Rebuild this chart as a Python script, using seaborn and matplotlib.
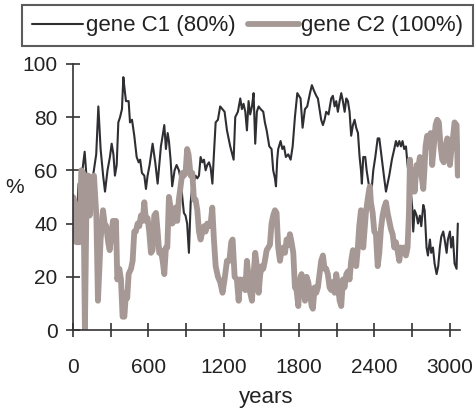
import numpy as np
import pandas as pd
import matplotlib
matplotlib.use("Agg")
import matplotlib.pyplot as plt
from matplotlib.ticker import MultipleLocator
import seaborn as sns

# gene C1 (thin black line)
c1_years = [0, 15, 30, 45, 60, 75, 93, 110, 125, 140, 160, 185, 202, 220, 240, 255, 275, 294, 308,
            322, 334, 348, 361, 375, 390, 401, 412, 422, 443, 454, 470, 488, 507, 523, 535, 549, 568,
            581, 594, 610, 622, 634, 655, 674, 687, 700, 714, 727, 740, 754, 764, 777, 790, 809, 825,
            843, 860, 870, 883, 896, 909, 923, 937, 950, 963, 976, 990, 1003, 1016, 1030, 1043, 1056,
            1069, 1083, 1096, 1110, 1122, 1136, 1154, 1172, 1190, 1207, 1226, 1252, 1279, 1292, 1313,
            1332, 1345, 1358, 1372, 1385, 1398, 1411, 1425, 1438, 1451, 1464, 1478, 1494, 1515, 1528,
            1542, 1563, 1581, 1594, 1608, 1616, 1626, 1634, 1653, 1667, 1680, 1695, 1714, 1733, 1749,
            1767, 1786, 1799, 1812, 1828, 1847, 1865, 1887, 1902, 1918, 1937, 1950, 1963, 1976, 1990,
            2003, 2016, 2035, 2056, 2069, 2083, 2096, 2109, 2123, 2136, 2149, 2163, 2176, 2189, 2202,
            2215, 2229, 2242, 2255, 2269, 2282, 2293, 2300, 2311, 2327, 2338, 2354, 2367, 2380, 2391,
            2407, 2426, 2439, 2452, 2465, 2478, 2492, 2505, 2518, 2539, 2558, 2571, 2584, 2598, 2611,
            2624, 2637, 2651, 2664, 2675, 2688, 2701, 2709, 2720, 2736, 2747, 2762, 2773, 2789, 2800,
            2815, 2826, 2842, 2852, 2866, 2879, 2895, 2908, 2921, 2932, 2948, 2959, 2975, 2985, 3001,
            3011, 3025, 3038, 3054, 3064]
c1_values = [47, 50, 42, 55, 48, 60, 67, 56, 44, 52, 58, 66, 84, 68, 58, 52, 60, 65, 70,
             66, 58, 62, 78, 80, 83, 95, 90, 86, 86, 78, 79, 73, 65, 63, 64, 59, 58,
             53, 58, 62, 66, 70, 63, 55, 62, 69, 73, 77, 68, 74, 71, 64, 54, 60, 62,
             60, 56, 50, 44, 43, 40, 29, 48, 54, 56, 58, 57, 58, 65, 63, 64, 60,
             62, 63, 61, 55, 66, 78, 79, 84, 83, 82, 75, 69, 64, 80, 82,
             87, 83, 85, 82, 75, 86, 81, 84, 89, 70, 82, 84, 83, 82, 78,
             75, 69, 68, 60, 57, 54, 64, 68, 71, 68, 69, 65, 66, 64, 69,
             80, 89, 88, 87, 76, 83, 84, 89, 92, 90, 88, 87, 83, 79, 77,
             79, 82, 81, 87, 88, 84, 86, 82, 86, 89, 86, 82, 87, 86, 82,
             73, 77, 79, 76, 74, 65, 60, 55, 65, 65, 60, 55, 53, 54, 60,
             65, 72, 72, 67, 62, 57, 52, 55, 58, 64, 68, 71, 69, 71, 69,
             71, 68, 69, 62, 58, 53, 46, 37, 45, 43, 40, 43, 39, 47, 45,
             31, 28, 34, 29, 31, 25, 21, 24, 31, 35, 37, 34, 29, 34, 37,
             31, 35, 25, 23, 40]

# gene C2 (thick grey line)
c2_years = [0, 13, 27, 40, 53, 66, 82, 95, 110, 122, 133, 146, 167, 186, 199, 220, 239, 252, 265,
            280, 292, 305, 318, 332, 342, 353, 369, 382, 395, 409, 422, 432, 443, 462, 475, 488, 500,
            515, 528, 541, 555, 568, 581, 594, 607, 621, 634, 647, 661, 674, 687, 700, 714, 727, 740,
            751, 764, 777, 790, 803, 817, 830, 843, 857, 870, 883, 896, 909, 920, 937, 950, 963, 976,
            990, 1003, 1016, 1030, 1043, 1056, 1069, 1083, 1096, 1109, 1122, 1136, 1154, 1172, 1191,
            1207, 1226, 1245, 1260, 1271, 1287, 1305, 1319, 1332, 1345, 1359, 1372, 1385, 1398, 1411,
            1425, 1438, 1451, 1464, 1478, 1491, 1504, 1515, 1528, 1542, 1555, 1568, 1581, 1594, 1608,
            1621, 1634, 1648, 1661, 1674, 1688, 1701, 1714, 1727, 1740, 1754, 1767, 1780, 1794, 1807,
            1820, 1833, 1847, 1860, 1873, 1887, 1900, 1910, 1924, 1937, 1950, 1963, 1976, 1990, 2003,
            2016, 2029, 2043, 2056, 2069, 2083, 2096, 2109, 2123, 2136, 2149, 2162, 2176, 2189, 2202,
            2215, 2229, 2242, 2255, 2268, 2279, 2293, 2302, 2311, 2321, 2332, 2346, 2359, 2364, 2372,
            2386, 2399, 2412, 2426, 2439, 2452, 2465, 2478, 2492, 2505, 2518, 2531, 2545, 2558, 2571,
            2584, 2598, 2611, 2624, 2637, 2651, 2664, 2675, 2683, 2693, 2701, 2709, 2720, 2736, 2749,
            2762, 2773, 2789, 2798, 2807, 2820, 2834, 2848, 2860, 2874, 2887, 2900, 2913, 2927, 2940,
            2953, 2967, 2980, 2990, 3001, 3011, 3027, 3038, 3054, 3064]
c2_values = [50, 48, 33, 33, 33, 60, 59, 0, 58, 58, 43, 57, 58, 43, 11, 34, 45, 40, 39,
             33, 30, 35, 41, 34, 41, 19, 23, 19, 5, 5, 14, 12, 21, 23, 26, 37, 37,
             40, 39, 43, 41, 48, 41, 42, 37, 29, 30, 43, 44, 37, 29, 30, 26, 21, 31,
             31, 50, 46, 40, 41, 46, 41, 49, 54, 59, 58, 59, 68, 66, 58, 59, 49, 49,
             45, 37, 34, 37, 39, 37, 40, 39, 40, 46, 34, 24, 20, 18, 14,
             19, 26, 26, 33, 34, 20, 19, 11, 19, 16, 19, 15, 26, 20, 14,
             11, 21, 29, 24, 14, 21, 24, 23, 26, 30, 31, 32, 40, 43, 45,
             44, 31, 26, 30, 31, 29, 34, 32, 36, 33, 29, 16, 15, 9, 19,
             21, 17, 11, 20, 18, 14, 9, 8, 16, 14, 16, 21, 26, 28, 23,
             23, 21, 16, 15, 18, 14, 21, 17, 11, 9, 19, 16, 21, 22, 19,
             26, 30, 26, 24, 31, 39, 45, 40, 31, 37, 44, 49, 53, 54, 48,
             44, 37, 36, 24, 29, 38, 43, 46, 48, 44, 41, 38, 36, 31, 33,
             30, 26, 31, 30, 31, 28, 31, 44, 64, 55, 52, 60, 52, 62, 61,
             65, 59, 53, 60, 69, 73, 69, 74, 62, 70, 77, 79, 78, 69, 64,
             63, 69, 72, 71, 62, 67, 73, 78, 77, 58]

labels = ["gene C1 (80%)", "gene C2 (100%)"]
x_ticks = [0, 600, 1200, 1800, 2400, 3000]
y_ticks = [0, 20, 40, 60, 80, 100]

sns.set_style("ticks")
plt.rcParams['font.family'] = ['Liberation Sans', 'DejaVu Sans']
ink = "#333333"
txt = "#222222"

fig = plt.figure(figsize=(4.77, 4.12), dpi=100)
ax = fig.add_axes([0.153, 0.199, 0.811, 0.646])

sns.lineplot(x=c1_years, y=c1_values, ax=ax, color="#2f2f33", linewidth=1.5, label=labels[0])
sns.lineplot(x=c2_years, y=c2_values, ax=ax, color="#a69995", linewidth=4.2, label=labels[1])

ax.set_xlim(0, 3080)
ax.set_ylim(0, 100)
ax.set_xticks(x_ticks)
ax.xaxis.set_minor_locator(MultipleLocator(300))
ax.set_yticks(y_ticks)
ax.tick_params(which="both", direction="inout", length=10, width=1.2, color=ink,
               labelsize=15, labelcolor=txt)
ax.tick_params(axis="x", pad=15)
ax.tick_params(axis="y", pad=6)
sns.despine(ax=ax)
for s in ["left", "bottom"]:
    ax.spines[s].set_color(ink)
    ax.spines[s].set_linewidth(1.2)

ax.set_xlabel("years", fontsize=16, color=txt, labelpad=7)
ax.set_ylabel("%", fontsize=15, color=txt, rotation=0)
ax.yaxis.set_label_coords(-0.15, 0.5)

ax.get_legend().remove()
h, l = ax.get_legend_handles_labels()
leg = fig.legend(h, l, loc="upper left", bbox_to_anchor=(0.046, 0.987),
                 ncol=2, fontsize=16, frameon=True, fancybox=False,
                 handlelength=2.3, handletextpad=0.12, columnspacing=0.55,
                 borderaxespad=0, borderpad=0.45)
leg.get_frame().set_edgecolor(ink)
leg.get_frame().set_linewidth(1.5)
for t in leg.get_texts():
    t.set_color(txt)

plt.savefig("out.png", dpi=100)
